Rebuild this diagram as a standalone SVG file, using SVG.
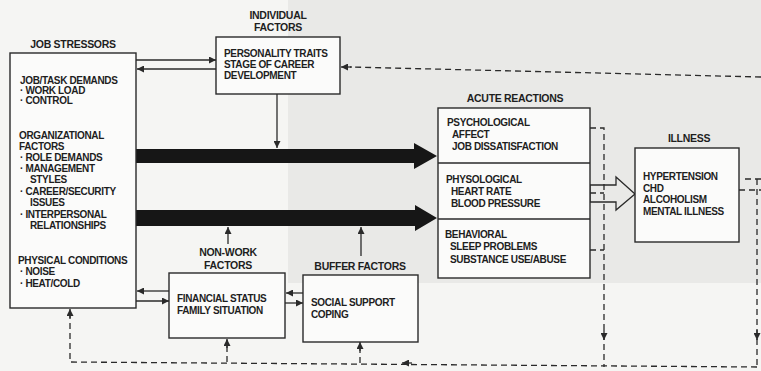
<svg xmlns="http://www.w3.org/2000/svg" width="761" height="371" viewBox="0 0 761 371">
<style>
.bx{fill:#fbfbfa;stroke:#2a2a2a;stroke-width:1.4}
.t{font-family:"Liberation Sans",Arial,sans-serif;font-weight:bold;font-size:10px;fill:#1e1e1e;letter-spacing:-0.35px}
.h{font-family:"Liberation Sans",Arial,sans-serif;font-weight:bold;font-size:10.5px;fill:#1e1e1e;letter-spacing:-0.3px;text-anchor:middle}
.ln{stroke:#2a2a2a;stroke-width:1.3;fill:none}
.ds{stroke:#2a2a2a;stroke-width:1.3;fill:none;stroke-dasharray:6 4}
</style>
<defs>
<marker id="ah" viewBox="0 0 10 10" refX="10" refY="5" markerWidth="8" markerHeight="7" orient="auto" markerUnits="userSpaceOnUse"><path d="M0,0 L10,5 L0,10 z" fill="#2a2a2a"/></marker>
</defs>
<rect x="0" y="0" width="761" height="371" fill="#f5f5f3"/>
<rect x="288" y="0" width="473" height="283" fill="#e9e9e7"/>

<g id="connectors">
<line class="ln" x1="136" y1="60" x2="216" y2="60" marker-end="url(#ah)"/>
<line class="ln" x1="216" y1="69" x2="137" y2="69" marker-end="url(#ah)"/>
<line class="ln" x1="277" y1="94" x2="277" y2="148" marker-end="url(#ah)"/>
<polygon points="136,149 414,149 414,143 437,156 414,169 414,163 136,163" fill="#161616"/>
<polygon points="136,210 415,210 415,205 437,218 415,231 415,226 136,226" fill="#161616"/>
<line class="ln" x1="228" y1="244" x2="228" y2="227" marker-end="url(#ah)"/>
<line class="ln" x1="361" y1="256" x2="361" y2="227" marker-end="url(#ah)"/>
<line class="ln" x1="169" y1="291" x2="137" y2="291" marker-end="url(#ah)"/>
<line class="ln" x1="136" y1="301" x2="169" y2="301" marker-end="url(#ah)"/>
<line class="ln" x1="303" y1="293" x2="286" y2="293" marker-end="url(#ah)"/>
<line class="ln" x1="285" y1="303" x2="303" y2="303" marker-end="url(#ah)"/>
<polygon class="ln" points="590,185 616,185 616,177 635,194 616,210 616,202 590,202"/>
<polyline class="ds" points="590,128 604,128 604,367"/>
<line class="ds" x1="590" y1="193" x2="604" y2="193"/>
<line class="ds" x1="590" y1="250" x2="604" y2="250"/>
<line class="ln" x1="604" y1="330" x2="604" y2="340" marker-end="url(#ah)"/>
<line class="ds" x1="739" y1="190" x2="761" y2="190"/>
<line class="ds" x1="745" y1="179" x2="761" y2="179"/>
<line class="ds" x1="757" y1="179" x2="757" y2="367"/>
<line class="ln" x1="757" y1="330" x2="757" y2="340" marker-end="url(#ah)"/>
<polyline class="ds" points="757,367 70,362 70,310"/>
<line class="ln" x1="70" y1="318" x2="70" y2="309" marker-end="url(#ah)"/>
<line class="ln" x1="412" y1="363" x2="402" y2="363" marker-end="url(#ah)"/>
<line class="ds" x1="227" y1="362" x2="227" y2="340"/>
<line class="ln" x1="227" y1="348" x2="227" y2="339" marker-end="url(#ah)"/>
<line class="ds" x1="360" y1="363" x2="360" y2="343"/>
<line class="ln" x1="360" y1="351" x2="360" y2="342" marker-end="url(#ah)"/>
<line class="ds" x1="761" y1="77" x2="350" y2="67"/>
<line class="ln" x1="352" y1="67" x2="341" y2="67" marker-end="url(#ah)"/>
</g>

<g id="job-stressors">
<text class="h" x="73" y="48">JOB STRESSORS</text>
<rect class="bx" x="10" y="53" width="126" height="255"/>
<text class="t" x="20" y="84">JOB/TASK DEMANDS</text>
<text class="t" x="20" y="94">· WORK LOAD</text>
<text class="t" x="20" y="104">· CONTROL</text>
<text class="t" x="19" y="139">ORGANIZATIONAL</text>
<text class="t" x="19" y="150">FACTORS</text>
<text class="t" x="20" y="161">· ROLE DEMANDS</text>
<text class="t" x="20" y="172">· MANAGEMENT</text>
<text class="t" x="30" y="183">STYLES</text>
<text class="t" x="20" y="195">· CAREER/SECURITY</text>
<text class="t" x="30" y="206">ISSUES</text>
<text class="t" x="20" y="218">· INTERPERSONAL</text>
<text class="t" x="30" y="229">RELATIONSHIPS</text>
<text class="t" x="18" y="264">PHYSICAL CONDITIONS</text>
<text class="t" x="20" y="275">· NOISE</text>
<text class="t" x="20" y="287">· HEAT/COLD</text>
</g>

<g id="individual-factors">
<text class="h" x="278" y="19">INDIVIDUAL</text>
<text class="h" x="278" y="31">FACTORS</text>
<rect class="bx" x="216" y="37" width="124" height="57"/>
<text class="t" x="224" y="57">PERSONALITY TRAITS</text>
<text class="t" x="224" y="68">STAGE OF CAREER</text>
<text class="t" x="224" y="79">DEVELOPMENT</text>
</g>

<g id="non-work-factors">
<text class="h" x="228" y="256">NON-WORK</text>
<text class="h" x="228" y="269">FACTORS</text>
<rect class="bx" x="169" y="273" width="116" height="65"/>
<text class="t" x="177" y="302">FINANCIAL STATUS</text>
<text class="t" x="177" y="314">FAMILY SITUATION</text>
</g>

<g id="buffer-factors">
<text class="h" x="360" y="270">BUFFER FACTORS</text>
<rect class="bx" x="303" y="275" width="115" height="67"/>
<text class="t" x="311" y="306">SOCIAL SUPPORT</text>
<text class="t" x="311" y="318">COPING</text>
</g>

<g id="acute-reactions">
<text class="h" x="515" y="102">ACUTE REACTIONS</text>
<rect class="bx" x="438" y="108" width="152" height="170"/>
<line class="ln" x1="438" y1="163" x2="590" y2="163"/>
<line class="ln" x1="438" y1="219" x2="590" y2="219"/>
<text class="t" x="447" y="126">PSYCHOLOGICAL</text>
<text class="t" x="452" y="138">AFFECT</text>
<text class="t" x="452" y="150">JOB DISSATISFACTION</text>
<text class="t" x="446" y="183">PHYSOLOGICAL</text>
<text class="t" x="451" y="195">HEART RATE</text>
<text class="t" x="451" y="207">BLOOD PRESSURE</text>
<text class="t" x="445" y="238">BEHAVIORAL</text>
<text class="t" x="450" y="250">SLEEP PROBLEMS</text>
<text class="t" x="450" y="263">SUBSTANCE USE/ABUSE</text>
</g>

<g id="illness">
<text class="h" x="689" y="142">ILLNESS</text>
<rect class="bx" x="635" y="148" width="104" height="94"/>
<text class="t" x="643" y="180">HYPERTENSION</text>
<text class="t" x="643" y="192">CHD</text>
<text class="t" x="643" y="203">ALCOHOLISM</text>
<text class="t" x="643" y="215">MENTAL ILLNESS</text>
</g>
</svg>
